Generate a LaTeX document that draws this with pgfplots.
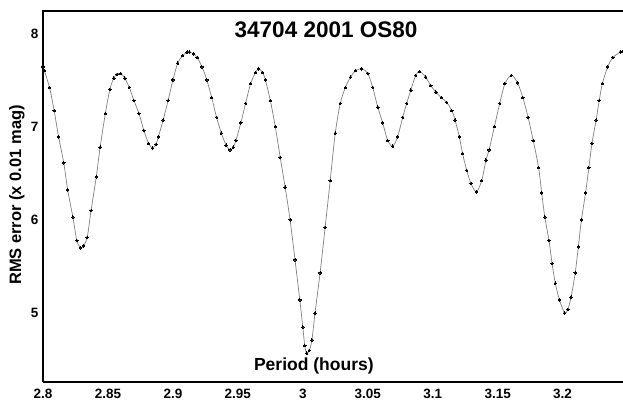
\documentclass[border=0pt]{standalone}
\usepackage{pgfplots}
\pgfplotsset{compat=1.18}
\usepackage{fontspec}
\setmainfont{Liberation Sans}
\begin{document}
\begin{tikzpicture}
\begin{axis}[
  at={(0,0)}, anchor=south west,
  scale only axis, width=580pt, height=371pt,
  xmin=2.8, xmax=3.2465, ymin=4.26, ymax=8.24,
  xtick={2.8,2.85,2.9,2.95,3,3.05,3.1,3.15,3.2},
  ytick={5,6,7,8},
  major tick length=0pt,
  axis line style={draw=none},
  clip=false,
  /pgf/number format/assume math mode=true,
  tick label style={font=\bfseries\fontsize{13.5}{15}\selectfont, text=black},
  xticklabel style={yshift=-3.5pt},
  yticklabel style={xshift=-1pt},
]
\draw[line width=2pt] (rel axis cs:0,0) -- (rel axis cs:1,0);
\draw[line width=1.2pt] (rel axis cs:0,0) -- (rel axis cs:0,1) -- (rel axis cs:1,1);
\draw[line width=2.2pt] (rel axis cs:0,0) -- (rel axis cs:0,0.75);
\addplot[color=black!50, line width=0.7pt, smooth, tension=0.5,
  mark=*, mark size=1.25pt, mark options={fill=black, draw=black, line width=0pt}]
coordinates {
(2.8000,7.64) (2.8010,7.60) (2.8050,7.42) (2.8086,7.17) (2.8120,6.89) (2.8160,6.61)
(2.8190,6.32) (2.8230,6.03) (2.8260,5.78) (2.8290,5.70) (2.8310,5.72) (2.8340,5.81)
(2.8370,6.10) (2.8410,6.46) (2.8440,6.78) (2.8480,7.14) (2.8515,7.40) (2.8545,7.52)
(2.8570,7.56) (2.8597,7.57) (2.8630,7.52) (2.8664,7.42) (2.8700,7.28) (2.8739,7.14)
(2.8776,6.96) (2.8813,6.82) (2.8843,6.77) (2.8870,6.81) (2.8888,6.89) (2.8925,7.07)
(2.8963,7.28) (2.9000,7.50) (2.9037,7.68) (2.9075,7.76) (2.9110,7.80) (2.9127,7.80)
(2.9160,7.78) (2.9187,7.74) (2.9224,7.64) (2.9261,7.50) (2.9299,7.31) (2.9336,7.10)
(2.9373,6.93) (2.9410,6.80) (2.9440,6.75) (2.9465,6.78) (2.9485,6.85) (2.9523,7.04)
(2.9560,7.25) (2.9598,7.46) (2.9636,7.58) (2.9660,7.62) (2.9690,7.58) (2.9712,7.50)
(2.9750,7.28) (2.9788,7.00) (2.9826,6.67) (2.9864,6.35) (2.9902,6.00) (2.9940,5.57)
(2.9977,5.14) (3.0000,4.85) (3.0015,4.65) (3.0030,4.57) (3.0050,4.60) (3.0070,4.71)
(3.0094,5.00) (3.0133,5.43) (3.0172,5.92) (3.0211,6.42) (3.0250,6.93) (3.0289,7.25)
(3.0328,7.42) (3.0367,7.53) (3.0406,7.60) (3.0453,7.62) (3.0500,7.57) (3.0538,7.42)
(3.0577,7.21) (3.0615,7.04) (3.0654,6.85) (3.0692,6.79) (3.0730,6.89) (3.0769,7.10)
(3.0800,7.25) (3.0831,7.39) (3.0869,7.55) (3.0900,7.59) (3.0946,7.53) (3.0985,7.44)
(3.1025,7.37) (3.1066,7.31) (3.1107,7.26) (3.1148,7.17) (3.1172,7.07) (3.1205,6.89)
(3.1230,6.71) (3.1262,6.53) (3.1295,6.39) (3.1336,6.30) (3.1377,6.42) (3.1410,6.64)
(3.1434,6.75) (3.1475,7.00) (3.1516,7.25) (3.1556,7.46) (3.1605,7.55) (3.1653,7.47)
(3.1694,7.31) (3.1734,7.10) (3.1774,6.85) (3.1815,6.56) (3.1839,6.29) (3.1863,6.03)
(3.1895,5.78) (3.1919,5.53) (3.1944,5.32) (3.1976,5.14) (3.2016,5.00) (3.2040,5.04)
(3.2065,5.17) (3.2097,5.43) (3.2121,5.71) (3.2145,6.00) (3.2177,6.29) (3.2202,6.56)
(3.2226,6.82) (3.2258,7.07) (3.2282,7.28) (3.2306,7.46) (3.2347,7.64) (3.2387,7.74)
(3.2444,7.80) (3.2465,7.81)
};
\node[font=\bfseries\fontsize{22.5}{26}\selectfont] at (rel axis cs:0.488,0.949) {34704 2001 OS80};
\node[font=\bfseries\fontsize{17.5}{20}\selectfont] at (rel axis cs:0.467,0.043) {Period (hours)};
\node[font=\bfseries\fontsize{16.5}{19}\selectfont, rotate=90] at ([xshift=-26pt]rel axis cs:0,0.504) {RMS error (x 0.01 mag)};
\end{axis}
\pgfresetboundingbox
\path (-43pt,-20pt) rectangle (580pt,382pt);
\end{tikzpicture}
\end{document}
